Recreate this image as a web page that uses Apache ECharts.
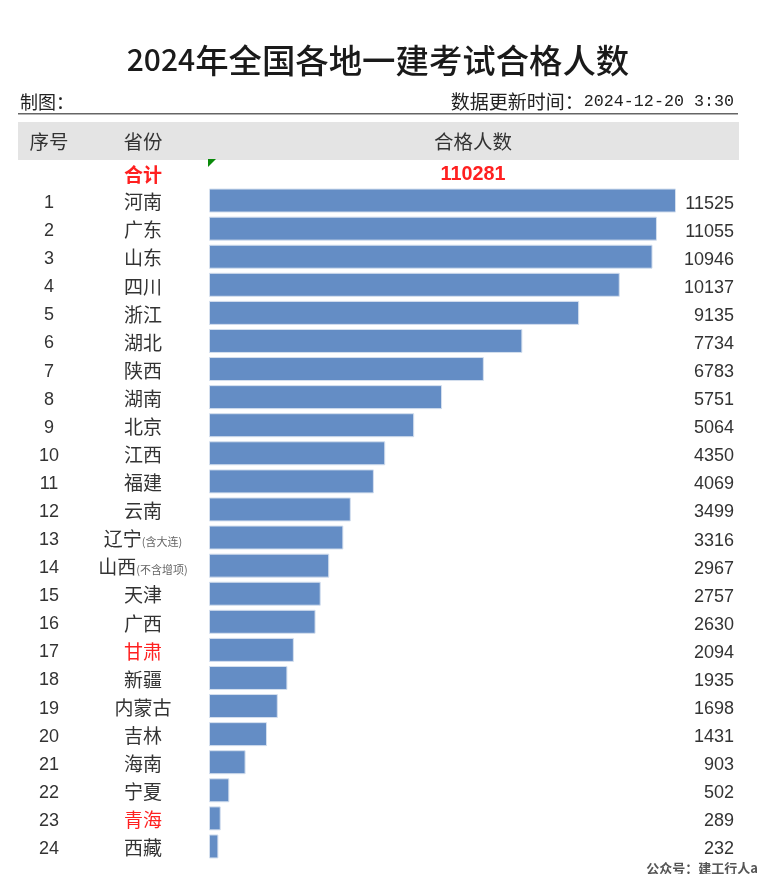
<!DOCTYPE html>
<html>
<head>
<meta charset="utf-8">
<style>
html, body { margin: 0; padding: 0; background: #fff; }
#chart { width: 758px; height: 874px; }
</style>
<script src="https://cdn.jsdelivr.net/npm/echarts@6/dist/echarts.min.js"></script>
</head>
<body>
<div id="chart"></div>
<script>
var ranks = ['1','2','3','4','5','6','7','8','9','10','11','12','13','14','15','16','17','18','19','20','21','22','23','24'];
var provinces = ['河南','广东','山东','四川','浙江','湖北','陕西','湖南','北京','江西','福建','云南','辽宁','山西','天津','广西','甘肃','新疆','内蒙古','吉林','海南','宁夏','青海','西藏'];
var counts = [11525,11055,10946,10137,9135,7734,6783,5751,5064,4350,4069,3499,3316,2967,2757,2630,2094,1935,1698,1431,903,502,289,232];
var redProvinces = ['甘肃','青海'];
var provinceNotes = { '辽宁': '(含大连)', '山西': '(不含增项)' };
var totalLabel = '合计';
var totalCount = '110281';

var sansFont = '"Liberation Sans","Noto Sans CJK SC",sans-serif';
var cjkFont = '"Noto Sans CJK SC",sans-serif';

function headText(text, x, y, size, color, weight, font) {
    return {
        type: 'text',
        style: {
            text: text, x: x, y: y, fill: color || '#333',
            font: (weight || 'normal') + ' ' + size + 'px ' + (font || sansFont),
            align: 'center', verticalAlign: 'middle'
        }
    };
}

function wrapNum(v) {
    return '{n|' + v + '}';
}

var myChart = echarts.init(document.getElementById('chart'));

var option = {
    animation: false,
    backgroundColor: '#fff',
    grid: { left: 209, top: 186.5, width: 467, height: 674 },
    xAxis: { type: 'value', min: 0, max: 11525, show: false },
    yAxis: [
        {
            type: 'category',
            inverse: true,
            data: provinces,
            axisLine: { show: false },
            axisTick: { show: false },
            axisLabel: {
                interval: 0,
                margin: 66,
                align: 'center',
                fontSize: 19,
                color: '#333',
                fontFamily: cjkFont,
                padding: [3, 0, 0, 0],
                formatter: function (v) {
                    if (redProvinces.indexOf(v) >= 0) return '{red|' + v + '}';
                    return provinceNotes[v] ? v + '{note|' + provinceNotes[v] + '}' : v;
                },
                rich: {
                    note: { fontSize: 11, color: '#666', fontFamily: cjkFont, padding: [5, 0, 0, 0] },
                    red: { fontSize: 19, color: '#ff2020', fontFamily: cjkFont }
                }
            }
        },
        {
            type: 'category',
            inverse: true,
            position: 'left',
            data: ranks,
            axisLine: { show: false },
            axisTick: { show: false },
            axisLabel: {
                interval: 0, margin: 160, align: 'center',
                padding: [5, 0, 0, 0],
                formatter: wrapNum,
                rich: { n: { fontSize: 18, color: '#333', fontFamily: sansFont } }
            }
        },
        {
            type: 'category',
            inverse: true,
            position: 'right',
            data: counts.map(String),
            axisLine: { show: false },
            axisTick: { show: false },
            axisLabel: {
                interval: 0, margin: 58, align: 'right',
                padding: [6, 0, 0, 0],
                formatter: wrapNum,
                rich: { n: { fontSize: 18, color: '#333', fontFamily: sansFont } }
            }
        }
    ],
    series: [
        {
            type: 'bar',
            data: counts,
            barWidth: 24,
            itemStyle: { color: '#648dc5', borderColor: '#d4dfee', borderWidth: 1 }
        }
    ],
    graphic: [
        {
            type: 'text',
            style: {
                text: '{d|2024}{c|年全国各地一建考试合格人数}',
                x: 378, y: 60, align: 'center', verticalAlign: 'middle',
                rich: {
                    d: { fontSize: 30, fontWeight: 500, fontFamily: cjkFont, fill: '#1a1a1a' },
                    c: { fontSize: 33.4, fontWeight: 500, fontFamily: cjkFont, fill: '#1a1a1a' }
                }
            }
        },
        {
            type: 'text',
            style: { text: '制图：', x: 20, y: 102, fill: '#222', font: '18px ' + cjkFont, align: 'left', verticalAlign: 'middle' }
        },
        {
            type: 'text',
            style: {
                text: '{c|数据更新时间：}{d|2024-12-20 3:30}',
                x: 734, y: 102, align: 'right', verticalAlign: 'middle',
                rich: {
                    c: { fontSize: 19, fontFamily: cjkFont, fill: '#222' },
                    d: { fontSize: 16.7, fontFamily: '"Liberation Mono",monospace', fill: '#222' }
                }
            }
        },
        { type: 'rect', shape: { x: 18, y: 113, width: 720, height: 1.5 }, style: { fill: '#666' } },
        { type: 'rect', shape: { x: 18, y: 122, width: 721, height: 38 }, style: { fill: '#e4e4e4' } },
        { type: 'polygon', shape: { points: [[208, 159], [216, 159], [208, 167]] }, style: { fill: '#0a8a0a' } },
        headText('序号', 49, 142, 19.5, '#333', 'normal', cjkFont),
        headText('省份', 143, 142, 19.5, '#333', 'normal', cjkFont),
        headText('合格人数', 473, 142, 19.5, '#333', 'normal', cjkFont),
        headText(totalLabel, 143, 175, 19, '#ff2020', 'bold', cjkFont),
        headText(totalCount, 473, 175, 19.8, '#ff2020', 'bold', sansFont),
        {
            type: 'text',
            style: { text: '公众号：建工行人a', x: 758, y: 868, fill: '#555', font: 'bold 13px ' + cjkFont, align: 'right', verticalAlign: 'middle' }
        }
    ]
};

myChart.setOption(option);
</script>
</body>
</html>
